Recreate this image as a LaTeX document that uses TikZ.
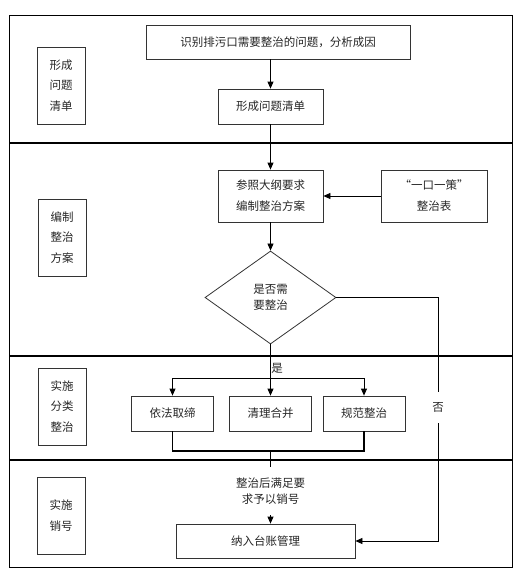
\documentclass[tikz,border=0pt]{standalone}
\usepackage{fontspec}
\setmainfont{Noto Sans CJK SC}
\usetikzlibrary{shapes.geometric}
\usetikzlibrary{positioning}
\usetikzlibrary{arrows.meta}
\tikzset{
  stepbox/.style={draw=black!80, rectangle, line width=0.8pt, align=center, text=black!85, font=\fontsize{11.5}{21}\selectfont},
  lanebox/.style={draw=black!80, rectangle, line width=0.8pt, align=center, text=black!85, minimum width=48pt, minimum height=77pt, font=\fontsize{11.5}{20.5}\selectfont},
  flow/.style={-{Triangle[length=7pt,width=6pt]}, line width=0.8pt},
}

\begin{document}
\begin{tikzpicture}[x=1pt,y=-1pt]
            \useasboundingbox (0,0) rectangle (524,576);
            % Swim lanes
            \draw[line width=0.9pt] (9.5,15) rectangle (512,567);
            \foreach \y in {143,356,460} \draw[line width=1.5pt] (9.5,\y) -- (512,\y);

            \node[lanebox] (lane1) at (61,85.5) {形成\\问题\\清单};
            \node[lanebox] (lane2) at (62,237.5) {编制\\整治\\方案};
            \node[lanebox] (lane3) at (62,406.5) {实施\\分类\\整治};
            \node[lanebox] (lane4) at (61,515.5) {实施\\销号};

            \node[stepbox, minimum width=264pt, minimum height=34pt] (identify) at (278,42) {识别排污口需要整治的问题，分析成因};
            \node[stepbox, minimum width=105pt, minimum height=35pt] (list) at (270.5,106.5) {形成问题清单};
            \node[stepbox, minimum width=105pt, minimum height=52pt] (plan) at (270.5,196) {参照大纲要求\\编制整治方案};
            \node[stepbox, minimum width=106pt, minimum height=52pt] (policy) at (434,196) {“一口一策”\\整治表};
            \node[draw=black!80, diamond, line width=0.8pt, minimum width=131pt, minimum height=93pt, inner sep=0pt, align=center, text=black!85, font=\fontsize{11.5}{15.5}\selectfont] (judge) at (270.5,297.5) {是否需\\要整治};
            \node[stepbox, minimum width=82pt, minimum height=35pt] (ban) at (172.5,413.5) {依法取缔};
            \node[stepbox, minimum width=82pt, minimum height=35pt] (merge) at (270.5,413.5) {清理合并};
            \node[stepbox, minimum width=82pt, minimum height=35pt] (norm) at (364,413.5) {规范整治};
            \node[align=center, text=black!85, inner sep=0pt, minimum height=48pt, font=\fontsize{11.5}{16}\selectfont] (cancel) at (270.5,491) {整治后满足要\\求予以销号};
            \node[stepbox, minimum width=179pt, minimum height=34pt] (ledger) at (265.5,541) {纳入台账管理};

            \node[text=black!85, font=\fontsize{11.5}{14}\selectfont] (yes) at (277,368) {是};
            \node[text=black!85, inner sep=0pt, minimum height=31pt, font=\fontsize{11.5}{14}\selectfont] (no) at (438,407.5) {否};
            \coordinate (fork) at (270.5,378);
            \coordinate (join) at (270.5,451);

            \draw[flow] (identify.south -| list) -- (list);
            \draw[flow] (list) -- (plan);
            \draw[flow] (policy) -- (plan);
            \draw[flow] (plan) -- (judge);
            \draw[flow] (judge) -- (merge);
            \draw[flow] (fork) -| (ban.north);
            \draw[flow] (fork) -| (norm.north);
            \draw[line width=0.8pt] (judge.east) -| (no.north);
            \draw[flow] (no.south) |- (ledger.east);
            \draw[line width=1.6pt] (ban.south) |- (join) -| (norm.south);
            \draw[line width=0.8pt] (join) -- (cancel.north);
            \draw[flow] (cancel.south) -- (ledger.north -| cancel.south);
        \end{tikzpicture}
\end{document}
